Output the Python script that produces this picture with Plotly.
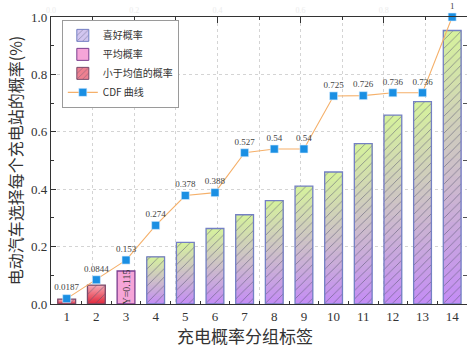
import plotly.graph_objects as go

# ---- data -------------------------------------------------------------
groups = list(range(1, 15))
group_labels = [str(g) for g in groups]

bar_values = [0.017, 0.066, 0.115, 0.164, 0.215, 0.263, 0.311,
              0.360, 0.411, 0.460, 0.559, 0.658, 0.705, 0.953]
# bar category: "low" = below average, "avg" = average, "pref" = preferred
bar_kind = ["low", "low", "avg"] + ["pref"] * 11

cdf_values = [0.0187, 0.0844, 0.153, 0.274, 0.378, 0.388, 0.527,
              0.54, 0.54, 0.725, 0.726, 0.736, 0.736, 1]
cdf_labels = ["0.0187", "0.0844", "0.153", "0.274", "0.378", "0.388", "0.527",
              "0.54", "0.54", "0.725", "0.726", "0.736", "0.736", "1"]

series_names = {"pref": "喜好概率", "avg": "平均概率", "low": "小于均值的概率"}
cdf_name = "CDF 曲线"
x_title = "充电概率分组标签"
y_title = "电动汽车选择每个充电站的概率(%)"
top_ticks = [0.1 * i for i in range(11)]

# ---- styles -----------------------------------------------------------
SERIF = "Liberation Serif, Times New Roman, serif"
CJK = "Noto Sans CJK SC, sans-serif"

grad = {  # (bottom colour, top colour) for gradient fills
    "pref": ((196, 140, 246), (214, 243, 155)),
    "low": ((226, 40, 58), (247, 170, 182)),
    "avg": ((246, 165, 216), (246, 165, 216)),
}
edge = {"pref": "#7480c4", "low": "#7a4a6a", "avg": "#7a3f8f"}
hatch = {"pref": "/", "low": "/", "avg": ""}
legend_fill = {"pref": "#d2c6f0", "avg": "#f6a5d8", "low": "#ee8090"}

BAR_W = 0.6
N_SEG = 30


def mix(c0, c1, t):
    r, g, b = (round(a + (b_ - a) * t) for a, b_ in zip(c0, c1))
    return f"rgb({r},{g},{b})"


fig = go.Figure()

# gradient fills: each layer starts higher and runs to the bar top,
# so later (lighter) layers cover the earlier ones without seams
for k in range(N_SEG):
    f = k / N_SEG
    t = (k + 0.5) / N_SEG
    fig.add_trace(go.Bar(
        x=groups,
        y=[v * (1 - f) for v in bar_values],
        base=[v * f for v in bar_values],
        width=BAR_W,
        marker=dict(color=[mix(*grad[c], t) for c in bar_kind], line=dict(width=0)),
        showlegend=False, hoverinfo="skip",
    ))

# hatch + outline on top of the gradient
fig.add_trace(go.Bar(
    x=groups, y=bar_values, width=BAR_W,
    marker=dict(
        color="rgba(0,0,0,0)",
        line=dict(color=[edge[c] for c in bar_kind], width=1.3),
        pattern=dict(shape=[hatch[c] for c in bar_kind], fillmode="overlay",
                     fgcolor="#555570", fgopacity=0.75, size=6, solidity=0.12),
    ),
    showlegend=False, hoverinfo="skip",
))

# legend entries for the three bar groups
for key in ["pref", "avg", "low"]:
    fig.add_trace(go.Bar(
        x=[None], y=[None], name=series_names[key],
        marker=dict(color=legend_fill[key], line=dict(color=edge[key], width=1),
                    pattern=dict(shape=hatch[key], fgcolor="#555570",
                                 fgopacity=0.7, size=5, solidity=0.15)),
    ))

# CDF curve
fig.add_trace(go.Scatter(
    x=groups, y=cdf_values, name=cdf_name,
    mode="lines+markers+text",
    line=dict(color="#f5b06a", width=1.1),
    marker=dict(symbol="square", size=8, color="#1a8fe3",
                line=dict(color="#d8ecff", width=0.6)),
    text=cdf_labels, textposition="top center",
    textfont=dict(family=SERIF, size=9, color="#444"),
    cliponaxis=False,
))

# invisible helper traces so the secondary axes are created
fig.add_trace(go.Scatter(x=[None], y=[None], xaxis="x2", yaxis="y",
                         showlegend=False, hoverinfo="skip"))
fig.add_trace(go.Scatter(x=[None], y=[None], xaxis="x", yaxis="y2",
                         showlegend=False, hoverinfo="skip"))

# value label inside the average bar
avg_i = bar_kind.index("avg")
fig.add_annotation(
    x=groups[avg_i], y=bar_values[avg_i] / 2, text=f"Y={bar_values[avg_i]}",
    textangle=-90, showarrow=False,
    font=dict(family=SERIF, size=10, color="#333"),
)

# x-axis title below the tick labels
fig.add_annotation(
    xref="paper", yref="paper", x=0.4675, y=-0.1, xanchor="center", yanchor="middle",
    yshift=-3, text=x_title, showarrow=False,
    font=dict(family=CJK, size=17, color="#333"),
)

fig.update_layout(
    width=467, height=346,
    margin=dict(l=51, r=0, t=17, b=42),
    paper_bgcolor="white", plot_bgcolor="white",
    barmode="overlay",
    font=dict(family=SERIF, color="#333"),
    showlegend=True,
    legend=dict(
        x=0.026, y=0.99, xanchor="left", yanchor="top",
        bgcolor="white", bordercolor="#9a9a9a", borderwidth=1,
        font=dict(family=CJK, size=10, color="#333"),
        tracegroupgap=0, itemwidth=30,
    ),
    xaxis=dict(
        range=[0.47, 14.5], tickvals=groups, ticktext=group_labels,
        ticks="", showgrid=False, zeroline=False,
        showline=True, linecolor="#333", linewidth=1.2,
        tickfont=dict(family=SERIF, size=13, color="#333"),
        minor=dict(tickvals=[g + 0.5 for g in groups[:-1]], ticks="inside",
                   ticklen=3, tickcolor="#333"),
    ),
    xaxis2=dict(
        overlaying="x", side="top", anchor="y", range=[0, 1],
        tickvals=top_ticks[::2], ticks="inside", ticklen=6, tickcolor="#333",
        showgrid=True, gridcolor="#d4d4d4", griddash="dot", gridwidth=1,
        minor=dict(tickvals=top_ticks[1::2], ticks="inside", ticklen=3,
                   tickcolor="#333", showgrid=True, gridcolor="#d4d4d4",
                   griddash="dot"),
        showline=True, linecolor="#333", linewidth=1.2, zeroline=False,
        tickfont=dict(family=SERIF, size=8, color="#ececec"),
        tickformat=".1f",
    ),
    yaxis=dict(
        range=[0, 1.0], dtick=0.2, tickformat=".1f",
        ticks="inside", ticklen=5, tickcolor="#333",
        minor=dict(dtick=0.1, ticks="inside", ticklen=3, tickcolor="#333"),
        showgrid=True, gridcolor="#d4d4d4", griddash="dot", zeroline=False,
        showline=True, linecolor="#333", linewidth=1.2,
        tickfont=dict(family=SERIF, size=13, color="#333"),
        title=dict(text=y_title, font=dict(family=CJK, size=16, color="#333"),
                   standoff=4),
    ),
    yaxis2=dict(
        overlaying="y", side="right", anchor="x", range=[0, 1.0],
        tickvals=top_ticks[1::2], ticks="inside", ticklen=4, tickcolor="#555",
        showticklabels=False, showgrid=False, showline=False, zeroline=False,
    ),
)

fig.write_html("out.html")
